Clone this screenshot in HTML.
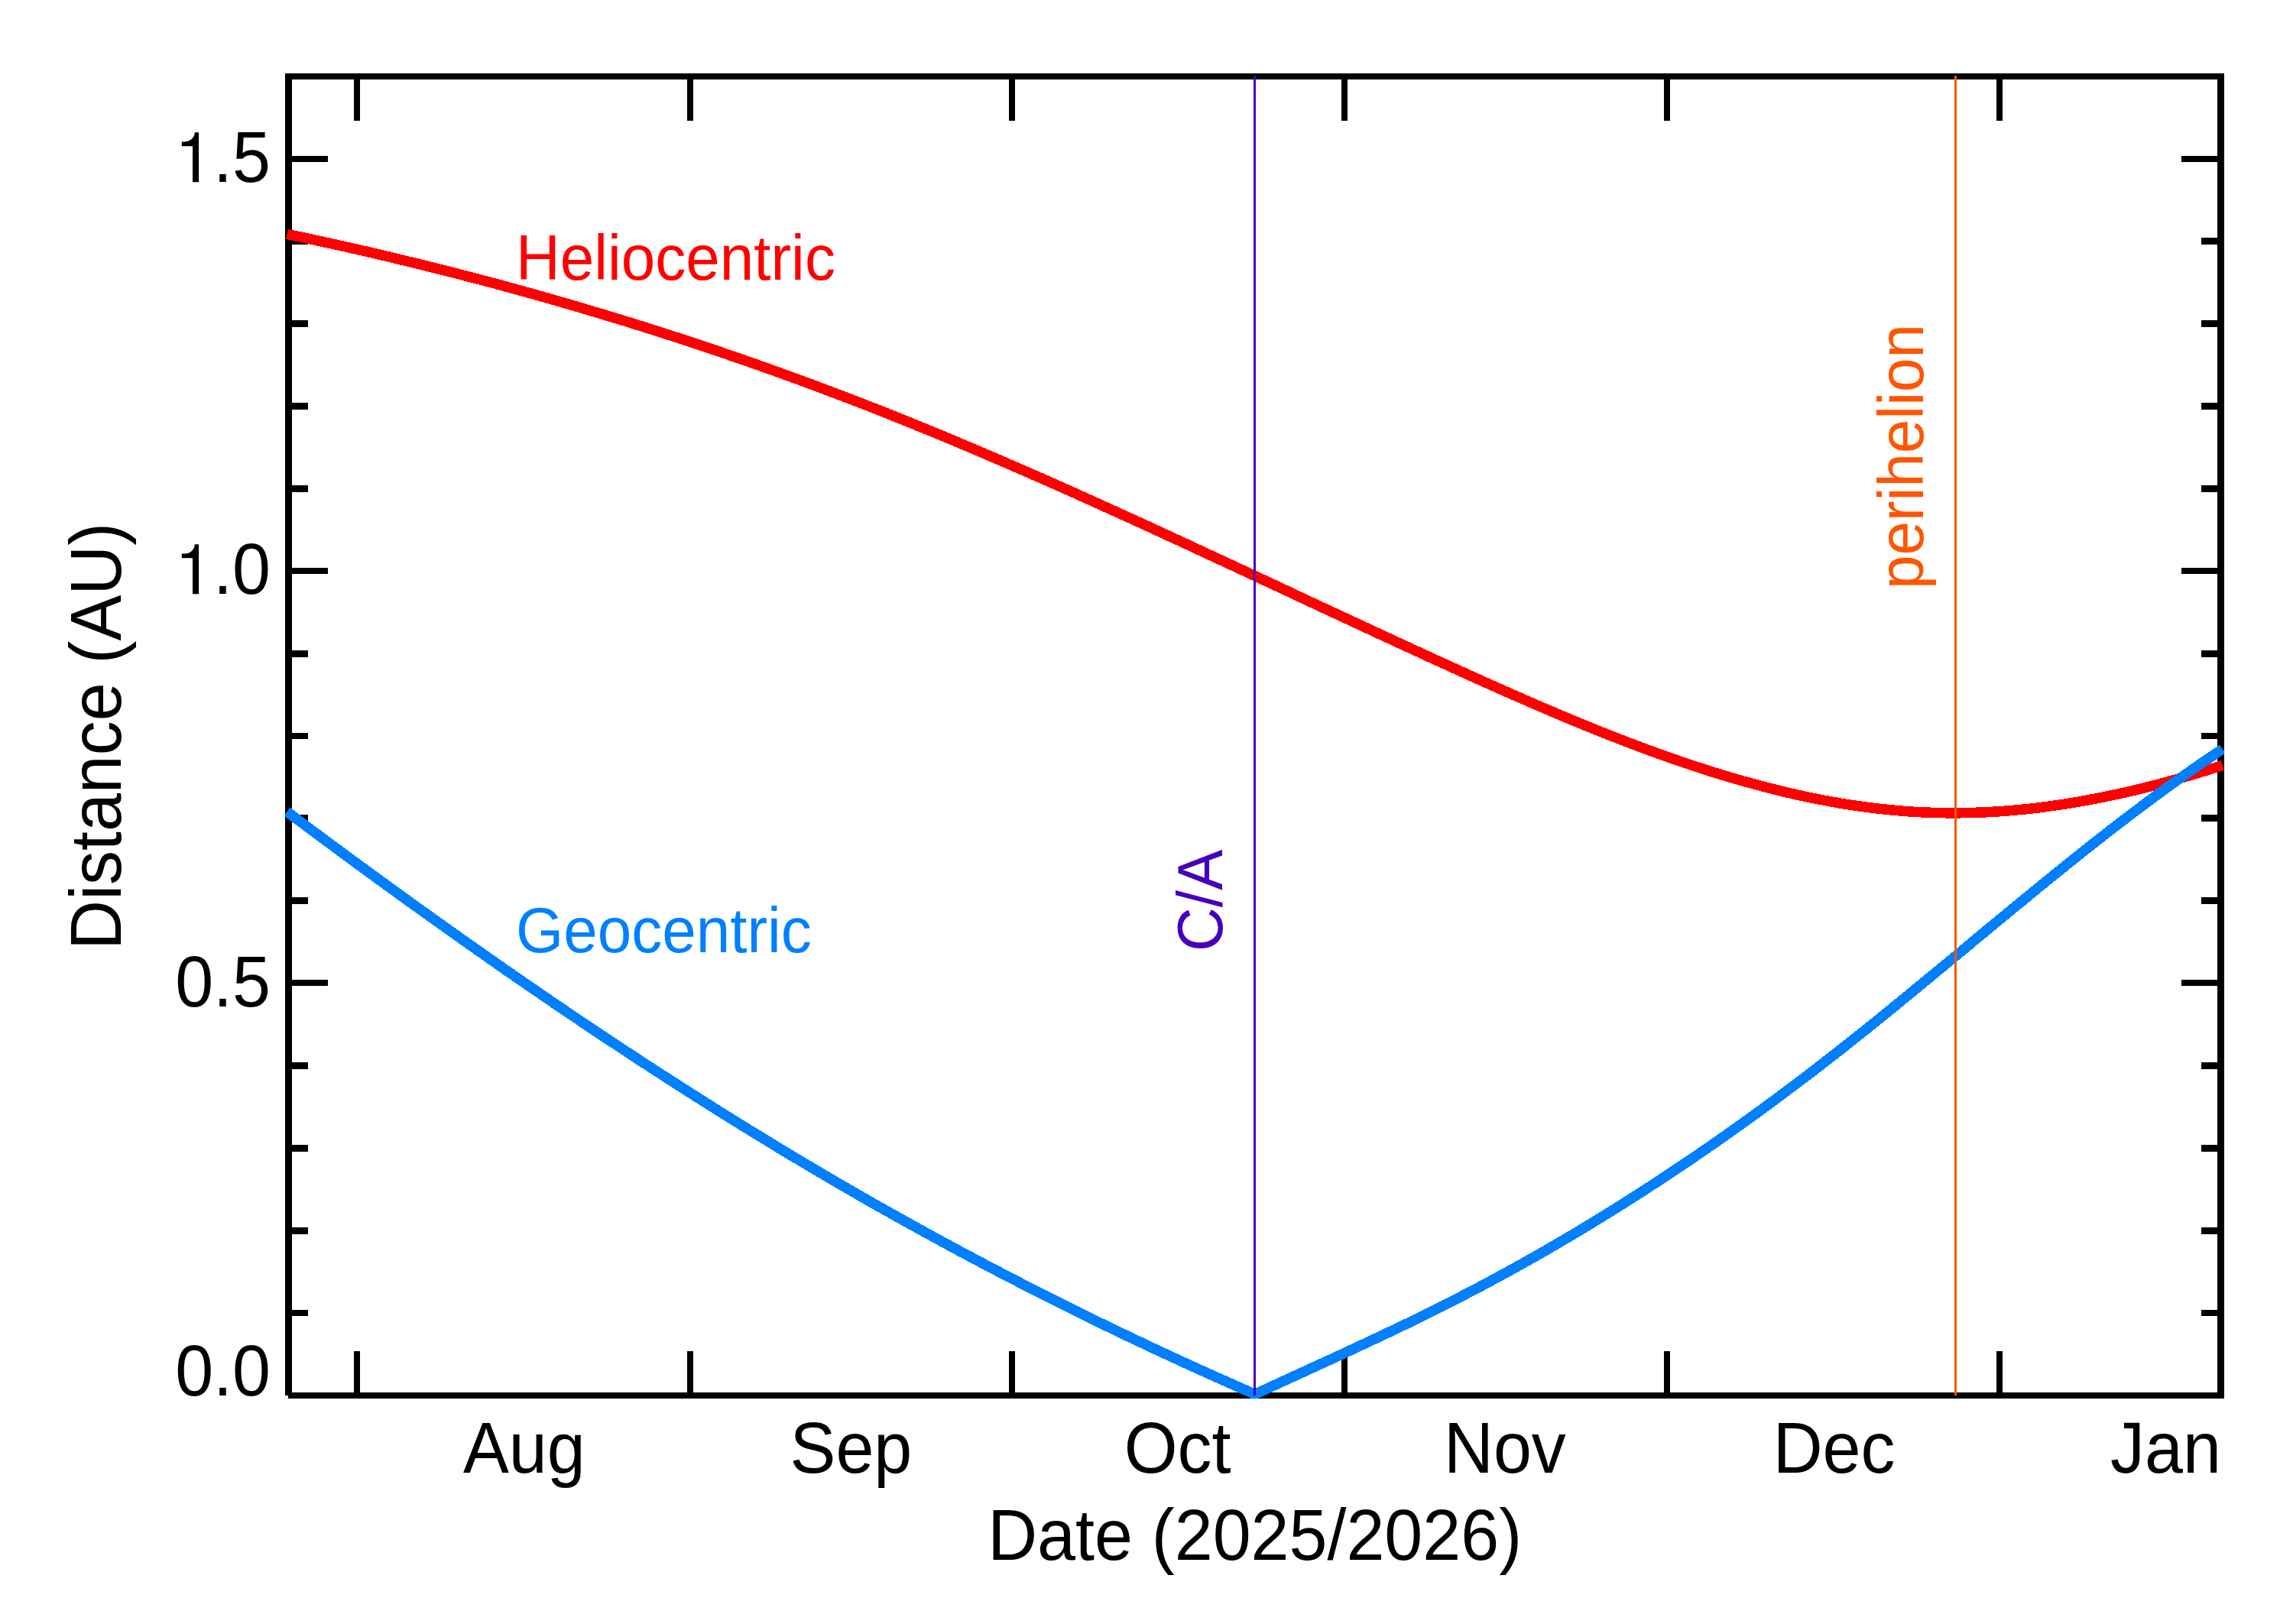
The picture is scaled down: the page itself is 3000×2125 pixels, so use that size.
<!DOCTYPE html>
<html><head><meta charset="utf-8"><title>Distance plot</title>
<style>
html,body{margin:0;padding:0;background:#fff;}
svg{display:block;}
text{font-family:"Liberation Sans",sans-serif;}
.k{font-size:89.8px;fill:#000;}
.c{font-size:80px;}
</style></head>
<body>
<svg width="3000" height="2125" viewBox="0 0 3000 2125">
<rect x="0" y="0" width="3000" height="2125" fill="#fff"/>
<defs><clipPath id="cp"><rect x="373" y="96" width="2537" height="1734"/></clipPath></defs>
<g fill="#000" shape-rendering="crispEdges">
<rect x="373" y="96" width="9" height="1730"/>
<rect x="373" y="96" width="2537" height="8"/>
<rect x="2901" y="96" width="9" height="1734"/>
<rect x="377" y="1822" width="2533" height="8"/>
<rect x="463" y="100" width="8" height="58"/><rect x="463" y="1768" width="8" height="58"/>
<rect x="899" y="100" width="8" height="58"/><rect x="899" y="1768" width="8" height="58"/>
<rect x="1320" y="100" width="8" height="58"/><rect x="1320" y="1768" width="8" height="58"/>
<rect x="1755" y="100" width="8" height="58"/><rect x="1755" y="1768" width="8" height="58"/>
<rect x="2177" y="100" width="8" height="58"/><rect x="2177" y="1768" width="8" height="58"/>
<rect x="2612" y="100" width="8" height="58"/><rect x="2612" y="1768" width="8" height="58"/>
<rect x="378" y="1714" width="25" height="8"/><rect x="2880" y="1714" width="25" height="8"/>
<rect x="378" y="1606" width="25" height="9"/><rect x="2880" y="1606" width="25" height="9"/>
<rect x="378" y="1498" width="25" height="9"/><rect x="2880" y="1498" width="25" height="9"/>
<rect x="378" y="1390" width="25" height="9"/><rect x="2880" y="1390" width="25" height="9"/>
<rect x="378" y="1282" width="51" height="8"/><rect x="2854" y="1282" width="51" height="8"/>
<rect x="378" y="1174" width="25" height="9"/><rect x="2880" y="1174" width="25" height="9"/>
<rect x="378" y="1066" width="25" height="9"/><rect x="2880" y="1066" width="25" height="9"/>
<rect x="378" y="959" width="25" height="8"/><rect x="2880" y="959" width="25" height="8"/>
<rect x="378" y="851" width="25" height="9"/><rect x="2880" y="851" width="25" height="9"/>
<rect x="378" y="743" width="51" height="8"/><rect x="2854" y="743" width="51" height="8"/>
<rect x="378" y="635" width="25" height="9"/><rect x="2880" y="635" width="25" height="9"/>
<rect x="378" y="527" width="25" height="9"/><rect x="2880" y="527" width="25" height="9"/>
<rect x="378" y="419" width="25" height="9"/><rect x="2880" y="419" width="25" height="9"/>
<rect x="378" y="311" width="25" height="9"/><rect x="2880" y="311" width="25" height="9"/>
<rect x="378" y="204" width="51" height="8"/><rect x="2854" y="204" width="51" height="8"/>
</g>
<g fill="none" stroke-linejoin="miter" stroke-linecap="butt" clip-path="url(#cp)" shape-rendering="crispEdges">
<polyline stroke="#ff0000" stroke-width="13.5" points="375.5,306.4 387.5,308.9 399.5,311.4 411.5,314.0 423.5,316.6 435.5,319.2 447.5,321.9 459.5,324.6 471.5,327.3 483.5,330.1 495.5,332.9 507.5,335.7 519.5,338.6 531.5,341.5 543.5,344.4 555.5,347.3 567.5,350.3 579.5,353.3 591.5,356.4 603.5,359.5 615.5,362.6 627.5,365.7 639.5,368.9 651.5,372.1 663.5,375.4 675.5,378.7 687.5,382.0 699.5,385.3 711.5,388.7 723.5,392.1 735.5,395.6 747.5,399.1 759.5,402.6 771.5,406.2 783.5,409.7 795.5,413.4 807.6,417.0 819.6,420.7 831.6,424.5 843.6,428.2 855.6,432.0 867.6,435.9 879.6,439.7 891.6,443.6 903.6,447.6 915.6,451.6 927.6,455.6 939.6,459.6 951.6,463.7 963.6,467.9 975.6,472.0 987.6,476.2 999.6,480.5 1011.6,484.7 1023.6,489.0 1035.6,493.4 1047.6,497.8 1059.6,502.2 1071.6,506.7 1083.6,511.2 1095.6,515.7 1107.6,520.3 1119.6,524.9 1131.6,529.5 1143.6,534.2 1155.6,539.0 1167.6,543.7 1179.6,548.5 1191.6,553.4 1203.6,558.3 1215.6,563.2 1227.6,568.1 1239.6,573.1 1251.6,578.1 1263.6,583.2 1275.6,588.3 1287.6,593.4 1299.6,598.5 1311.6,603.7 1323.6,608.9 1335.6,614.1 1347.6,619.3 1359.6,624.6 1371.6,629.9 1383.6,635.2 1395.6,640.6 1407.6,645.9 1419.6,651.3 1431.6,656.7 1443.6,662.2 1455.6,667.6 1467.6,673.1 1479.6,678.5 1491.6,684.0 1503.6,689.5 1515.6,695.0 1527.6,700.6 1539.6,706.1 1551.6,711.6 1563.6,717.2 1575.6,722.8 1587.6,728.4 1599.6,733.9 1611.6,739.5 1623.6,745.1 1635.6,750.7 1647.7,756.3 1659.7,761.9 1671.7,767.5 1683.7,773.1 1695.7,778.8 1707.7,784.4 1719.7,790.0 1731.7,795.6 1743.7,801.2 1755.7,806.8 1767.7,812.3 1779.7,817.9 1791.7,823.5 1803.7,829.1 1815.7,834.6 1827.7,840.2 1839.7,845.7 1851.7,851.2 1863.7,856.8 1875.7,862.3 1887.7,867.7 1899.7,873.2 1911.7,878.7 1923.7,884.1 1935.7,889.5 1947.7,894.9 1959.7,900.3 1971.7,905.6 1983.7,910.9 1995.7,916.1 2007.7,921.4 2019.7,926.5 2031.7,931.6 2043.7,936.7 2055.7,941.7 2067.7,946.7 2079.7,951.6 2091.7,956.5 2103.7,961.2 2115.7,965.9 2127.7,970.6 2139.7,975.1 2151.7,979.6 2163.7,984.0 2175.7,988.3 2187.7,992.6 2199.7,996.7 2211.7,1000.8 2223.7,1004.7 2235.7,1008.6 2247.7,1012.3 2259.7,1016.0 2271.7,1019.5 2283.7,1022.9 2295.7,1026.2 2307.7,1029.4 2319.7,1032.5 2331.7,1035.5 2343.7,1038.3 2355.7,1041.0 2367.7,1043.5 2379.7,1045.9 2391.7,1048.2 2403.7,1050.4 2415.7,1052.4 2427.7,1054.2 2439.7,1055.9 2451.7,1057.4 2463.7,1058.8 2475.7,1060.0 2487.8,1061.1 2499.8,1062.0 2511.8,1062.7 2523.8,1063.2 2535.8,1063.6 2547.8,1063.8 2559.8,1063.8 2571.8,1063.7 2583.8,1063.3 2595.8,1062.9 2607.8,1062.2 2619.8,1061.5 2631.8,1060.5 2643.8,1059.4 2655.8,1058.2 2667.8,1056.8 2679.8,1055.2 2691.8,1053.5 2703.8,1051.7 2715.8,1049.7 2727.8,1047.6 2739.8,1045.4 2751.8,1043.0 2763.8,1040.5 2775.8,1037.9 2787.8,1035.2 2799.8,1032.3 2811.8,1029.3 2823.8,1026.2 2835.8,1023.0 2847.8,1019.6 2859.8,1016.2 2871.8,1012.6 2883.8,1009.0 2895.8,1005.2 2907.8,1001.4"/>
<polyline stroke="#0080ff" stroke-width="13.5" points="375.5,1062.1 387.4,1071.0 399.4,1079.9 411.3,1088.8 423.3,1097.7 435.2,1106.5 447.2,1115.4 459.1,1124.2 471.0,1132.9 483.0,1141.7 494.9,1150.4 506.9,1159.1 518.8,1167.7 530.8,1176.4 542.7,1185.0 554.7,1193.6 566.6,1202.1 578.5,1210.6 590.5,1219.1 602.4,1227.6 614.4,1236.0 626.3,1244.4 638.3,1252.8 650.2,1261.2 662.1,1269.5 674.1,1277.8 686.0,1286.0 698.0,1294.2 709.9,1302.4 721.9,1310.6 733.8,1318.7 745.7,1326.8 757.7,1334.8 769.6,1342.9 781.6,1350.8 793.5,1358.8 805.5,1366.7 817.4,1374.6 829.3,1382.4 841.3,1390.3 853.2,1398.0 865.2,1405.8 877.1,1413.5 889.1,1421.1 901.0,1428.8 913.0,1436.4 924.9,1443.9 936.8,1451.4 948.8,1458.9 960.7,1466.4 972.7,1473.8 984.6,1481.1 996.6,1488.4 1008.5,1495.7 1020.4,1503.0 1032.4,1510.2 1044.3,1517.3 1056.3,1524.5 1068.2,1531.5 1080.2,1538.6 1092.1,1545.6 1104.0,1552.5 1116.0,1559.4 1127.9,1566.3 1139.9,1573.1 1151.8,1579.9 1163.8,1586.6 1175.7,1593.3 1187.7,1600.0 1199.6,1606.6 1211.5,1613.2 1223.5,1619.7 1235.4,1626.2 1247.4,1632.7 1259.3,1639.1 1271.3,1645.4 1283.2,1651.8 1295.1,1658.1 1307.1,1664.3 1319.0,1670.5 1331.0,1676.7 1342.9,1682.9 1354.9,1689.0 1366.8,1695.0 1378.7,1701.0 1390.7,1707.0 1402.6,1713.0 1414.6,1718.9 1426.5,1724.7 1438.5,1730.6 1450.4,1736.4 1462.3,1742.1 1474.3,1747.9 1486.2,1753.5 1498.2,1759.2 1510.1,1764.8 1522.1,1770.4 1534.0,1775.9 1546.0,1781.4 1557.9,1786.9 1569.8,1792.3 1581.8,1797.7 1593.7,1803.1 1605.7,1808.4 1617.6,1813.7 1629.6,1819.0 1641.5,1824.7 1653.4,1819.0 1665.4,1813.5 1677.3,1808.0 1689.3,1802.5 1701.2,1797.0 1713.2,1791.5 1725.1,1786.1 1737.1,1780.6 1749.0,1775.1 1761.0,1769.6 1772.9,1764.0 1784.9,1758.4 1796.8,1752.8 1808.8,1747.2 1820.7,1741.5 1832.7,1735.8 1844.6,1730.1 1856.5,1724.2 1868.5,1718.4 1880.4,1712.4 1892.4,1706.4 1904.3,1700.3 1916.3,1694.1 1928.2,1687.9 1940.2,1681.6 1952.1,1675.2 1964.1,1668.7 1976.0,1662.2 1988.0,1655.6 1999.9,1648.9 2011.9,1642.1 2023.8,1635.3 2035.8,1628.3 2047.7,1621.3 2059.7,1614.3 2071.6,1607.1 2083.5,1599.9 2095.5,1592.5 2107.4,1585.2 2119.4,1577.7 2131.3,1570.1 2143.3,1562.5 2155.2,1554.8 2167.2,1547.0 2179.1,1539.2 2191.1,1531.2 2203.0,1523.2 2215.0,1515.1 2226.9,1507.0 2238.9,1498.7 2250.8,1490.4 2262.8,1482.0 2274.7,1473.5 2286.6,1464.9 2298.6,1456.3 2310.5,1447.6 2322.5,1438.8 2334.4,1429.9 2346.4,1420.9 2358.3,1411.9 2370.3,1402.8 2382.2,1393.6 2394.2,1384.3 2406.1,1375.0 2418.1,1365.5 2430.0,1356.0 2442.0,1346.5 2453.9,1336.9 2465.9,1327.2 2477.8,1317.5 2489.7,1307.7 2501.7,1297.9 2513.6,1288.1 2525.6,1278.2 2537.5,1268.4 2549.5,1258.5 2561.4,1248.6 2573.4,1238.7 2585.3,1228.7 2597.3,1218.8 2609.2,1208.9 2621.2,1199.1 2633.1,1189.2 2645.1,1179.4 2657.0,1169.6 2669.0,1159.8 2680.9,1150.1 2692.9,1140.4 2704.8,1130.8 2716.7,1121.2 2728.7,1111.7 2740.6,1102.3 2752.6,1092.9 2764.5,1083.6 2776.5,1074.4 2788.4,1065.3 2800.4,1056.3 2812.3,1047.3 2824.3,1038.5 2836.2,1029.8 2848.2,1021.2 2860.1,1012.7 2872.1,1004.4 2884.0,996.1 2896.0,988.1 2907.9,980.1"/>
</g>
<g shape-rendering="crispEdges">
<rect x="1640" y="99" width="3" height="1727" fill="#4400bb"/>
<rect x="2557" y="99" width="3" height="1727" fill="#ff5500"/>
</g>
<text class="k" transform="translate(354,238.2) scale(1,1.05)" text-anchor="end">.5</text>
<path fill="#000" transform="translate(0,238.2)" d="M237.8 -47 L237.8 -52.8 L241.6 -52.8 A13.1 12.2 0 0 0 254.7 -65 L260 -65 L260 0 L252 0 L252 -47 Z"/>
<text class="k" transform="translate(354,777.3) scale(1,1.05)" text-anchor="end">.0</text>
<path fill="#000" transform="translate(0,777.3)" d="M237.8 -47 L237.8 -52.8 L241.6 -52.8 A13.1 12.2 0 0 0 254.7 -65 L260 -65 L260 0 L252 0 L252 -47 Z"/>
<text class="k" transform="translate(354,1316.7) scale(1,1.05)" text-anchor="end">0.5</text>
<text class="k" transform="translate(354,1826.4) scale(1,1.05)" text-anchor="end">0.0</text>
<text class="k" transform="translate(685.8,1926.8) scale(1,1.05)" text-anchor="middle">Aug</text>
<text class="k" transform="translate(1113.4,1926.8) scale(1,1.05)" text-anchor="middle">Sep</text>
<text class="k" transform="translate(1540.5,1926.8) scale(1,1.05)" text-anchor="middle">Oct</text>
<text class="k" transform="translate(1968.9,1926.8) scale(1,1.05)" text-anchor="middle">Nov</text>
<text class="k" transform="translate(2399.6,1926.8) scale(1,1.05)" text-anchor="middle">Dec</text>
<text class="k" transform="translate(2833.5,1926.8) scale(1,1.05)" text-anchor="middle">Jan</text>
<text class="k" transform="translate(1641.6,2040.5) scale(1,1.05)" text-anchor="middle">Date (2025/2026)</text>
<text class="k" transform="translate(158,963.3) rotate(-90) scale(1,1.05)" text-anchor="middle">Distance (AU)</text>
<text class="c" transform="translate(675,365.7) scale(1,1.05)" fill="#ff0000">Heliocentric</text>
<text class="c" transform="translate(675,1245.7) scale(1,1.05)" fill="#0080ff">Geocentric</text>
<text class="c" transform="translate(1598.9,1245.1) rotate(-90) scale(1,1.05)" fill="#4400bb">C/A</text>
<text class="c" transform="translate(2515.6,771) rotate(-90) scale(1,1.05)" fill="#ff5500">perihelion</text>
</svg>
</body></html>
